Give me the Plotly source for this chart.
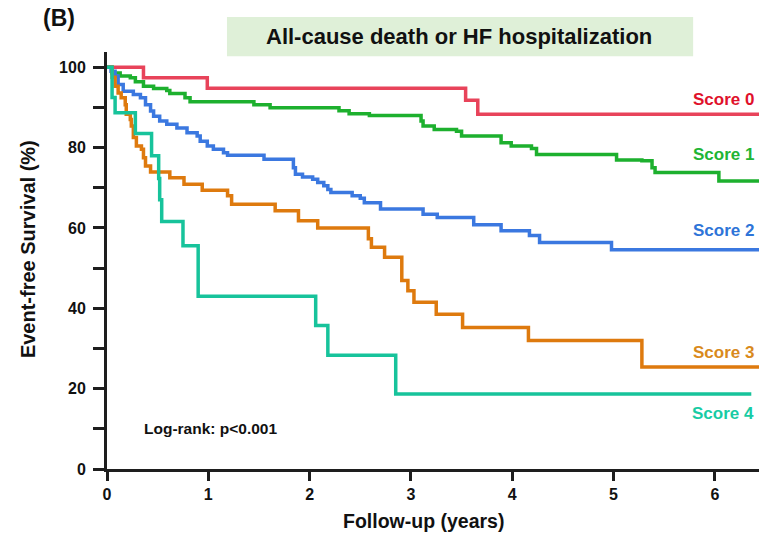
import plotly.graph_objects as go

# ---- data ----
t0 = [0, 0.36, 0.99, 3.54, 3.66, 6.44]
s0 = [100, 97.4, 94.8, 91.8, 88.3, 88.3]

t1 = [0, 0.05, 0.13, 0.23, 0.28, 0.36, 0.46, 0.59, 0.62, 0.77, 0.82, 1.45, 1.61, 2.29, 2.39, 2.59,
      3.10, 3.12, 3.23, 3.45, 3.50, 3.89, 3.99, 4.19, 4.24, 5.03, 5.28, 5.38, 5.41, 6.04, 6.44]
s1 = [100, 98.6, 97.8, 97.4, 96.4, 95.3, 94.7, 94.2, 93.5, 92.4, 91.4, 90.7, 89.9, 89.2, 88.4, 88.0,
      86.6, 85.4, 84.5, 84.1, 82.9, 81.2, 80.4, 79.8, 78.3, 76.9, 76.7, 75.0, 73.8, 71.7, 71.7]

t2 = [0, 0.04, 0.08, 0.11, 0.16, 0.26, 0.33, 0.38, 0.43, 0.46, 0.52, 0.59, 0.69, 0.79, 0.89, 0.92,
      0.99, 1.05, 1.15, 1.19, 1.55, 1.84, 1.86, 1.93, 2.03, 2.08, 2.14, 2.18, 2.21, 2.42, 2.50, 2.54,
      2.70, 3.12, 3.26, 3.62, 3.89, 4.17, 4.27, 4.98, 6.44]
s2 = [100, 99.0, 97.8, 95.7, 94.0, 93.2, 92.4, 90.7, 89.1, 87.8, 86.6, 85.8, 84.9, 83.7, 82.9, 81.6,
      80.4, 79.6, 78.7, 78.1, 77.1, 75.0, 73.4, 72.7, 72.1, 71.3, 70.5, 69.6, 68.8, 68.0, 67.4, 66.3,
      64.7, 63.4, 62.6, 60.8, 59.3, 58.1, 56.4, 54.6, 54.6]

t3 = [0, 0.05, 0.08, 0.11, 0.14, 0.18, 0.19, 0.23, 0.24, 0.26, 0.29, 0.34, 0.36, 0.38, 0.43, 0.62,
      0.76, 0.94, 1.19, 1.23, 1.66, 1.89, 2.08, 2.58, 2.61, 2.74, 2.91, 2.97, 3.03, 3.25, 3.51, 4.16,
      5.28, 6.44]
s3 = [100, 97.5, 95.3, 93.6, 92.4, 90.7, 88.3, 87.0, 85.4, 82.5, 80.4, 79.6, 77.5, 75.4, 73.9, 72.5,
      70.9, 69.4, 68.0, 65.9, 64.3, 61.8, 60.0, 57.3, 55.2, 52.7, 46.9, 44.4, 41.5, 38.5, 35.2, 32.0,
      25.4, 25.4]

t4 = [0, 0.05, 0.08, 0.28, 0.44, 0.51, 0.52, 0.54, 0.75, 0.90, 2.06, 2.18, 2.85, 6.36]
s4 = [100, 92.5, 88.7, 83.5, 78.0, 72.3, 67.0, 61.6, 55.6, 43.0, 35.7, 28.3, 18.7, 18.7]

labels = ["Score 0", "Score 1", "Score 2", "Score 3", "Score 4"]
x_ticks = [0, 1, 2, 3, 4, 5, 6]
y_ticks = [0, 20, 40, 60, 80, 100]

line_colors = ["#E8435A", "#1DB02E", "#3B78E0", "#DE7A0E", "#17C39B"]
label_colors = ["#E0112B", "#21B534", "#2E74D8", "#D98A1C", "#18CBA4"]

FONT = "Liberation Sans, Arial, sans-serif"
AX = "#1e1e1e"

fig = go.Figure()
for t, s, c, name in zip([t0, t1, t2, t3, t4], [s0, s1, s2, s3, s4], line_colors, labels):
    fig.add_trace(go.Scatter(x=t, y=s, mode="lines", line=dict(color=c, width=3.5, shape="hv"),
                             name=name, showlegend=False, hoverinfo="skip"))

label_y = [92.0, 78.3, 59.4, 29.0, 13.8]
ann = []
for name, c, yy in zip(labels, label_colors, label_y):
    ann.append(dict(text=name, xref="paper", yref="y", x=0.995, y=yy, xanchor="right", yanchor="middle",
                    showarrow=False, font=dict(family=FONT, size=17, color=c, weight="bold")))

ann += [
    dict(text="Log-rank: p<0.001", xref="x", yref="y", x=0.345, y=10.1, xanchor="left", yanchor="middle",
         showarrow=False, font=dict(family=FONT, size=15.5, color="#111", weight="bold")),
    dict(text="All-cause death or HF hospitalization", xref="paper", yref="paper", x=0.54, y=1.036,
         xanchor="center", yanchor="middle", showarrow=False,
         font=dict(family=FONT, size=22, color="#111", weight="bold")),
    dict(text="(B)", xref="paper", yref="paper", x=-0.0736, y=1.0815, xanchor="center", yanchor="middle",
         showarrow=False, font=dict(family=FONT, size=23, color="#111", weight="bold")),
    dict(text="Event-free Survival (%)", xref="paper", yref="paper", x=-0.121, y=0.5276, textangle=-90,
         xanchor="center", yanchor="middle", showarrow=False,
         font=dict(family=FONT, size=20, color="#111", weight="bold")),
    dict(text="Follow-up (years)", xref="paper", yref="paper", x=0.485, y=-0.1247, xanchor="center",
         yanchor="middle", showarrow=False, font=dict(family=FONT, size=19.5, color="#111", weight="bold")),
]

fig.update_layout(
    width=767, height=537,
    margin=dict(l=107, r=8, t=52, b=68),
    paper_bgcolor="white", plot_bgcolor="white",
    annotations=ann,
    shapes=[dict(type="rect", xref="paper", yref="paper", x0=0.184, x1=0.899, y0=0.990, y1=1.084,
                 fillcolor="#DFF0D8", line=dict(width=0), layer="below")],
    xaxis=dict(range=[0, 6.436], tickmode="array", tickvals=x_ticks, ticktext=[str(v) for v in x_ticks],
               showgrid=False, zeroline=False, showline=True, linecolor=AX, linewidth=3,
               ticks="outside", ticklen=9, tickwidth=3, tickcolor=AX,
               tickfont=dict(family=FONT, size=16, color="#111", weight="bold")),
    yaxis=dict(range=[0, 103.8], tickmode="array", tickvals=y_ticks, ticktext=[str(v) for v in y_ticks],
               showgrid=False, zeroline=False, showline=True, linecolor=AX, linewidth=3,
               ticks="outside", ticklen=11, tickwidth=3, tickcolor=AX, ticklabelstandoff=4,
               minor=dict(tickmode="linear", tick0=0, dtick=10, ticks="outside", ticklen=11, tickwidth=3,
                          tickcolor=AX, showgrid=False),
               tickfont=dict(family=FONT, size=16, color="#111", weight="bold")),
)

fig.write_html("out.html")
